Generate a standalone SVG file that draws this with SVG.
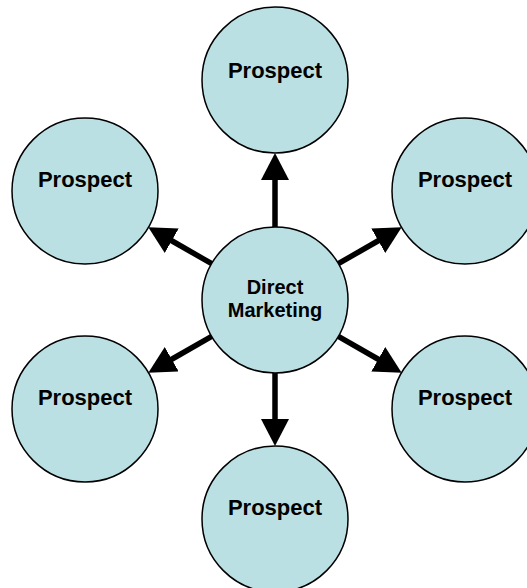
<svg xmlns="http://www.w3.org/2000/svg" width="527" height="588" viewBox="0 0 527 588">
  <style>
    .node circle { fill: #BBE0E3; stroke: #000000; stroke-width: 1.5; }
    .node text { font-family: "Liberation Sans", Arial, sans-serif; font-weight: bold; fill: #000000; text-anchor: middle; }
    .prospect { font-size: 22px; }
    .center-label { font-size: 20px; }
    .conn line { stroke: #000000; stroke-width: 5.5; marker-end: url(#head); }
  </style>
  <defs>
    <marker id="head" viewBox="0 0 27 28" refX="1" refY="14" markerWidth="27" markerHeight="28" markerUnits="userSpaceOnUse" orient="auto">
      <path d="M0,0 L27,14 L0,28 Z" fill="#000000"/>
    </marker>
  </defs>
  <rect width="527" height="588" fill="#ffffff"/>
  <g id="connectors" class="conn">
    <line x1="275" y1="227" x2="275" y2="179"/>
    <line x1="275" y1="373" x2="275" y2="420"/>
    <line x1="211.68" y1="263.68" x2="170.87" y2="240.26"/>
    <line x1="338.32" y1="263.68" x2="379.13" y2="240.26"/>
    <line x1="211.68" y1="336.32" x2="170.87" y2="359.74"/>
    <line x1="338.32" y1="336.32" x2="379.13" y2="359.74"/>
  </g>
  <g id="direct-marketing" class="node">
    <circle cx="275" cy="300" r="73"/>
    <text class="center-label" x="275" y="294">Direct</text>
    <text class="center-label" x="275" y="317">Marketing</text>
  </g>
  <g id="prospect-top" class="node">
    <circle cx="275" cy="80" r="73"/>
    <text class="prospect" x="275" y="78">Prospect</text>
  </g>
  <g id="prospect-upper-left" class="node">
    <circle cx="85" cy="191" r="73"/>
    <text class="prospect" x="85" y="187">Prospect</text>
  </g>
  <g id="prospect-upper-right" class="node">
    <circle cx="465" cy="191" r="73"/>
    <text class="prospect" x="465" y="187">Prospect</text>
  </g>
  <g id="prospect-lower-left" class="node">
    <circle cx="85" cy="409" r="73"/>
    <text class="prospect" x="85" y="405">Prospect</text>
  </g>
  <g id="prospect-lower-right" class="node">
    <circle cx="465" cy="409" r="73"/>
    <text class="prospect" x="465" y="405">Prospect</text>
  </g>
  <g id="prospect-bottom" class="node">
    <circle cx="275" cy="519" r="73"/>
    <text class="prospect" x="275" y="515">Prospect</text>
  </g>
</svg>
